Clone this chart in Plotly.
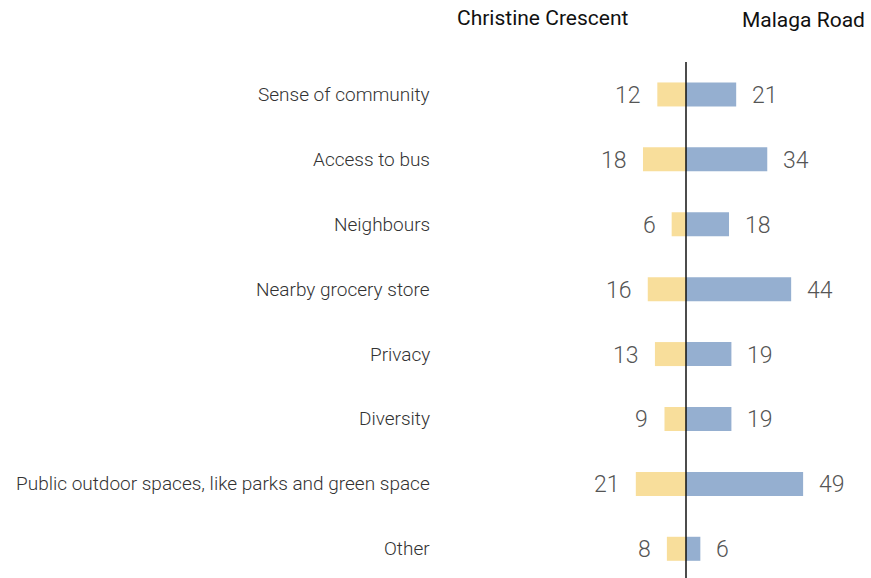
import plotly.graph_objects as go

categories = [
    "Sense of community",
    "Access to bus",
    "Neighbours",
    "Nearby grocery store",
    "Privacy",
    "Diversity",
    "Public outdoor spaces, like parks and green space",
    "Other",
]
christine = [12, 18, 6, 16, 13, 9, 21, 8]
malaga = [21, 34, 18, 44, 19, 19, 49, 6]
series_names = ["Christine Crescent", "Malaga Road"]

W, H = 871, 578
top_margin = 62
plot_h = H - top_margin
center_px = 686
px_per_unit = 2.39
x_min = -center_px / px_per_unit
x_max = (W - center_px) / px_per_unit
label_x = (432 - center_px) / px_per_unit

yellow = "#F8DE9B"
blue = "#95AFD0"
num_color = "#555555"
label_color = "#333333"

rows = list(range(len(categories)))

fig = go.Figure()
fig.add_trace(go.Bar(
    y=rows, x=[-v for v in christine], orientation="h",
    marker=dict(color=yellow, line=dict(width=0)), width=0.37,
    name=series_names[0], hoverinfo="skip",
))
fig.add_trace(go.Bar(
    y=rows, x=malaga, orientation="h",
    marker=dict(color=blue, line=dict(width=0)), width=0.37,
    name=series_names[1], hoverinfo="skip",
))

annotations = []
for i, (cat, a, b) in enumerate(zip(categories, christine, malaga)):
    annotations.append(dict(
        x=label_x, y=i, xref="x", yref="y", text=cat, showarrow=False,
        xanchor="right", yanchor="middle",
        font=dict(family="Roboto", size=19, color=label_color, weight=300),
    ))
    annotations.append(dict(
        x=-a, y=i, xref="x", yref="y", text=str(a), showarrow=False,
        xanchor="right", yanchor="middle", xshift=-14, yshift=-1,
        font=dict(family="Roboto", size=23, color=num_color, weight=300),
    ))
    annotations.append(dict(
        x=b, y=i, xref="x", yref="y", text=str(b), showarrow=False,
        xanchor="left", yanchor="middle", xshift=14, yshift=-1,
        font=dict(family="Roboto", size=23, color=num_color, weight=300),
    ))

# column headers sit above the plot area
annotations.append(dict(
    x=543 / W, y=(H - 18) / plot_h, xref="paper", yref="paper", text=series_names[0],
    showarrow=False, xanchor="center", yanchor="middle",
    font=dict(family="Roboto", size=21, color="#111111"),
))
annotations.append(dict(
    x=867 / W, y=(H - 20) / plot_h, xref="paper", yref="paper", text=series_names[1],
    showarrow=False, xanchor="right", yanchor="middle",
    font=dict(family="Roboto", size=21, color="#111111"),
))

fig.add_shape(
    type="line", x0=0, x1=0, xref="x", y0=0, y1=1, yref="paper",
    line=dict(color="#111111", width=1.5),
)

fig.update_layout(
    width=W, height=H,
    margin=dict(l=0, r=0, t=top_margin, b=0),
    paper_bgcolor="white", plot_bgcolor="white",
    barmode="overlay", showlegend=False,
    xaxis=dict(range=[x_min, x_max], visible=False, fixedrange=True),
    yaxis=dict(range=[7.45, -0.5], visible=False, fixedrange=True),
    annotations=annotations,
)

fig.write_html("out.html")
